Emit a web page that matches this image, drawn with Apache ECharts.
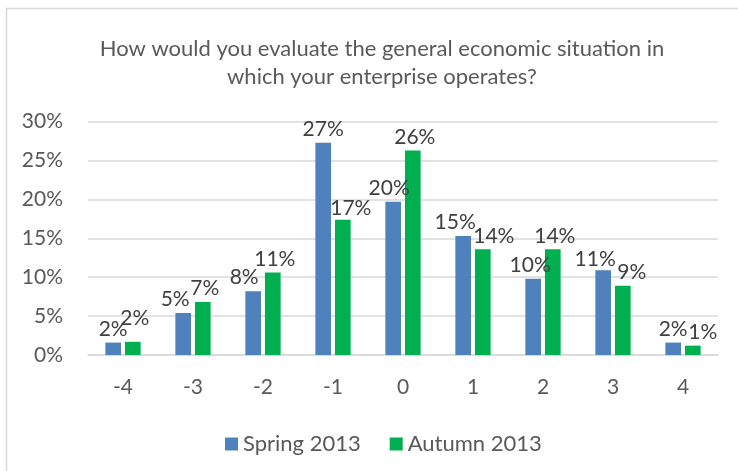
<!DOCTYPE html>
<html>
<head>
<meta charset="utf-8">
<script src="https://cdn.jsdelivr.net/npm/echarts@6/dist/echarts.min.js"></script>
<style>
html,body{margin:0;padding:0;background:#fff;}
#chart{width:738px;height:471px;}
</style>
</head>
<body>
<div id="chart"></div>
<script>
var categories = ['-4', '-3', '-2', '-1', '0', '1', '2', '3', '4'];
var spring2013 = [1.6, 5.4, 8.2, 27.3, 19.7, 15.3, 9.8, 10.9, 1.6];
var autumn2013 = [1.7, 6.8, 10.6, 17.4, 26.3, 13.6, 13.6, 8.9, 1.2];
var seriesNames = ['Spring 2013', 'Autumn 2013'];
var titleText = 'How would you evaluate the general economic situation in\nwhich your enterprise operates?';

// label nudges (style only), mimicking the reference's overlap avoidance
var labelDx = [
  [0, -8, -9, 0, -4, -8, -3, -8, 0],
  [2, 2, 2, 8, 2, 11, 2, 9, 10]
];
var labelDy = [
  [0, 0, 0, 0, 0, 0, 0, 3, 0],
  [-10, 0, 0, 2, 0, 0, 0, 0, 0]
];

var FONT = 'Lato, "Open Sans", sans-serif';
var chart = echarts.init(document.getElementById('chart'), null, {renderer: 'canvas'});

var labelCfg = {
  show: true,
  position: 'top',
  distance: 3,
  color: '#404040',
  fontSize: 21,
  fontFamily: FONT,
  formatter: function (p) { return Math.round(p.value) + '%'; }
};

function layout(p) {
  return {dx: labelDx[p.seriesIndex][p.dataIndex], dy: labelDy[p.seriesIndex][p.dataIndex]};
}

chart.setOption({
  animation: false,
  backgroundColor: '#ffffff',
  graphic: [{
    type: 'rect',
    shape: {x: 6.5, y: 8.5, width: 800, height: 800},
    style: {fill: 'none', stroke: '#d9d9d9', lineWidth: 1.5},
    silent: true, z: -10
  }],
  title: {
    text: titleText,
    left: 377,
    textAlign: 'center',
    top: 30,
    textStyle: {color: '#595959', fontSize: 22, fontWeight: 'normal', fontFamily: FONT, lineHeight: 28}
  },
  legend: {
    data: seriesNames,
    left: 220,
    top: 428,
    icon: 'rect',
    itemWidth: 13,
    itemHeight: 13,
    itemGap: 29,
    textStyle: {color: '#595959', fontSize: 22, fontFamily: FONT}
  },
  grid: {left: 88, right: 20, top: 121.7, bottom: 116, containLabel: false},
  xAxis: {
    type: 'category',
    data: categories,
    axisLine: {lineStyle: {color: '#d9d9d9', width: 1.5}},
    axisTick: {show: false},
    axisLabel: {color: '#595959', fontSize: 21, fontFamily: FONT, margin: 22}
  },
  yAxis: {
    type: 'value',
    min: 0,
    max: 30,
    interval: 5,
    axisLine: {show: false},
    axisTick: {show: false},
    axisLabel: {color: '#595959', fontSize: 21, fontFamily: FONT, margin: 25, formatter: '{value}%'},
    splitLine: {lineStyle: {color: '#d9d9d9', width: 1.5}}
  },
  series: [{
    name: seriesNames[0],
    type: 'bar',
    data: spring2013,
    barWidth: '22.4%',
    barGap: '25%',
    itemStyle: {color: '#4F81BD'},
    label: labelCfg,
    labelLayout: layout
  }, {
    name: seriesNames[1],
    type: 'bar',
    data: autumn2013,
    barWidth: '22.4%',
    itemStyle: {color: '#00B050'},
    label: labelCfg,
    labelLayout: layout
  }]
});
</script>
</body>
</html>
